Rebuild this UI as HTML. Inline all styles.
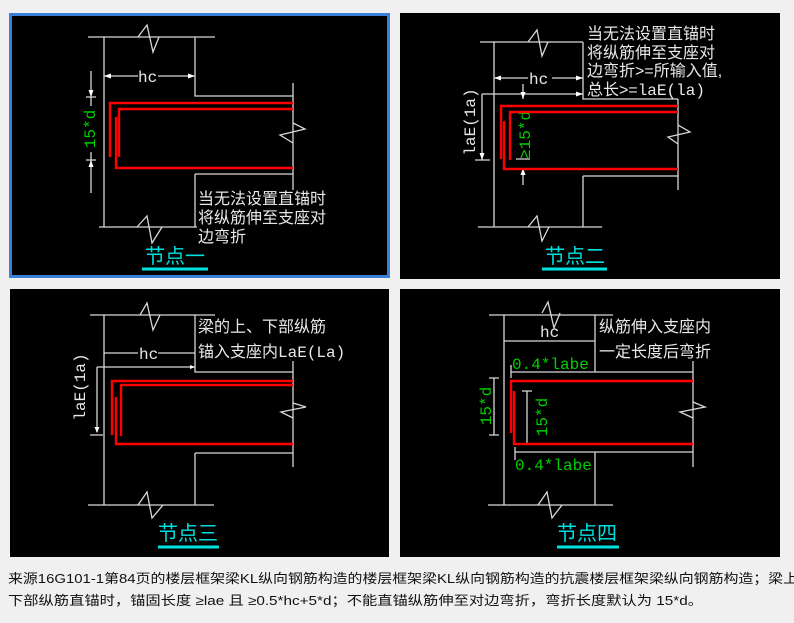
<!DOCTYPE html>
<html><head><meta charset="utf-8"><style>
html,body{margin:0;padding:0;background:#f0f0f0;}
svg{display:block;}
.w{stroke:#d8d8d8;stroke-width:1.3;fill:none;}
.r{stroke:#ff0000;stroke-width:2.4;fill:none;}
.t{font-family:"Liberation Sans","Noto Sans CJK SC",sans-serif;font-size:16px;fill:#e8e8e8;}
.m{font-family:"Liberation Mono","Noto Sans CJK SC",monospace;}
.g{fill:#00d000;}
.c{font-family:"Liberation Sans","Noto Sans CJK SC",sans-serif;font-size:20px;fill:#00e0e0;}
.u{stroke:#00e0e0;stroke-width:3;}
.b{font-family:"Liberation Sans","Noto Sans CJK SC",sans-serif;font-size:13px;fill:#111;}
</style></head><body>
<svg width="794" height="623" viewBox="0 0 794 623" xmlns="http://www.w3.org/2000/svg">
<rect x="0" y="0" width="794" height="623" fill="#f0f0f0"/>
<rect x="10.5" y="14.5" width="378" height="262" fill="#000" stroke="#3a80d8" stroke-width="3"/>
<rect x="400" y="13" width="380" height="266" fill="#000"/>
<rect x="10" y="289" width="379" height="268" fill="#000"/>
<rect x="400" y="289" width="380" height="268" fill="#000"/>

<!-- Panel 1 -->
<g class="w">
<path d="M88 37H215M104 37V227M195 37V96H293M293 83V190M195 174H293M195 174V227M99 227H197"/>
<path d="M138 37L147 25L153 52L159 37M137 227L147 216L152 243L162 227M293 123L305 129L280 135L293 143"/>
<path d="M104 76H138M158 76H195M91 71V106M91 152V193"/>
</g>
<path d="M104 76l7-2.5v5zM195 76l-7-2.5v5zM91 97l-2.5-7h5zM91 160l-2.5 7h5z" fill="#fff"/>
<path d="M86 97H96M86 160H96" class="w"/>
<text x="138" y="82" class="t m" font-size="17">hc</text>
<text transform="translate(95,129) rotate(-90)" text-anchor="middle" class="t m g" font-size="17">15*d</text>
<path class="r" d="M293 103H110V157M293 109H119V157M293 168H116V117"/>
<text x="198" y="204" class="t">当无法设置直锚时</text>
<text x="198" y="223" class="t">将纵筋伸至支座对</text>
<text x="198" y="242" class="t">边弯折</text>
<text x="145" y="263" class="c">节点一</text>
<line x1="142" y1="269" x2="208" y2="269" class="u"/>

<!-- Panel 2 -->
<g class="w">
<path d="M480 42H583M494 42V227M583 42V99H678M678 99V190M583 176H678M583 176V227M478 227H602"/>
<path d="M528 42L537 30L542 56L548 42M528 227L537 216L542 241L549 227M678 125L690 132L668 137L678 144"/>
<path d="M494 78H528M552 78H583M482 94H583M482 94V160M475 160H490M523 84V99M523 168V185M516 159H530"/>
</g>
<path d="M494 78l7-2.5v5zM583 78l-7-2.5v5zM583 94l-7-2.5v5zM482 160l-2.5-7h5zM523 99l-2.5-7h5zM523 168l-2.5 7h5z" fill="#fff"/>
<text x="529" y="84" class="t m" font-size="17">hc</text>
<text transform="translate(475,122) rotate(-90)" text-anchor="middle" class="t m" font-size="16">laE(1a)</text>
<text transform="translate(530,135) rotate(-90)" text-anchor="middle" class="t m g" font-size="15">≥15*d</text>
<path class="r" d="M678 106H501V159M678 112H510V160M678 169H504V121"/>
<text x="587" y="39" class="t">当无法设置直锚时</text>
<text x="587" y="58" class="t">将纵筋伸至支座对</text>
<text x="587" y="76" class="t">边弯折&gt;=所输入值,</text>
<text x="587" y="95" class="t">总长&gt;=<tspan class="m">laE(la)</tspan></text>
<text x="545" y="263" class="c">节点二</text>
<line x1="542" y1="269" x2="607" y2="269" class="u"/>

<!-- Panel 3 -->
<g class="w">
<path d="M90 315H215M104 315V505M195 315V372H293M293 361V467M195 453H293M195 453V505M88 505H214"/>
<path d="M140 315L147 303L153 330L160 315M138 505L147 492L152 518L163 505M293 403L306 407L281 412L293 418"/>
<path d="M104 353H138M158 353H195M97 367H195M97 367V432M90 435H103"/>
</g>
<path d="M195 367l-5-2v4zM97 433l-2.5-6h5z" fill="#fff"/>
<text x="139" y="359" class="t m" font-size="17">hc</text>
<text transform="translate(85,387) rotate(-90)" text-anchor="middle" class="t m" font-size="16">laE(1a)</text>
<path class="r" d="M293 381H112V435M293 385H121V436M293 444H116V397"/>
<text x="198" y="332" class="t">梁的上、下部纵筋</text>
<text x="198" y="357" class="t">锚入支座内<tspan class="m">LaE(La)</tspan></text>
<text x="158" y="540" class="c">节点三</text>
<line x1="158" y1="547" x2="219" y2="547" class="u"/>

<!-- Panel 4 -->
<g class="w">
<path d="M489 315H613M504 315V505M595 315V372M511 372H693M693 361V467M515 452H693M595 452V505M488 505H613"/>
<path d="M542 313L548 302L554 328L560 313M538 505L547 492L552 518L562 505M693 402L705 407L680 412L693 418"/>
<path d="M504 341H595M511 365V378M494 378V435M489 378H499M489 435H499M527 391V444M522 391H532M522 444H532M515 447V460"/>
</g>
<text x="540" y="337" class="t m" font-size="17">hc</text>
<text x="512" y="369" class="t m g" font-size="17">0.4*labe</text>
<text x="515" y="470" class="t m g" font-size="17">0.4*labe</text>
<text transform="translate(491,406) rotate(-90)" text-anchor="middle" class="t m g" font-size="18">15*d</text>
<text transform="translate(547,417) rotate(-90)" text-anchor="middle" class="t m g" font-size="18">15*d</text>
<path class="r" d="M693 381H511V433M693 444H514V391"/>
<text x="599" y="332" class="t">纵筋伸入支座内</text>
<text x="599" y="357" class="t">一定长度后弯折</text>
<text x="557" y="540" class="c">节点四</text>
<line x1="557" y1="547" x2="619" y2="547" class="u"/>

<text x="8" y="583" class="b" textLength="790" lengthAdjust="spacingAndGlyphs">来源16G101-1第84页的楼层框架梁KL纵向钢筋构造的楼层框架梁KL纵向钢筋构造的抗震楼层框架梁纵向钢筋构造；梁上</text>
<text x="8" y="605" class="b" textLength="695" lengthAdjust="spacingAndGlyphs">下部纵筋直锚时，锚固长度 ≥lae 且 ≥0.5*hc+5*d；不能直锚纵筋伸至对边弯折，弯折长度默认为 15*d。</text>
</svg>
</body></html>
